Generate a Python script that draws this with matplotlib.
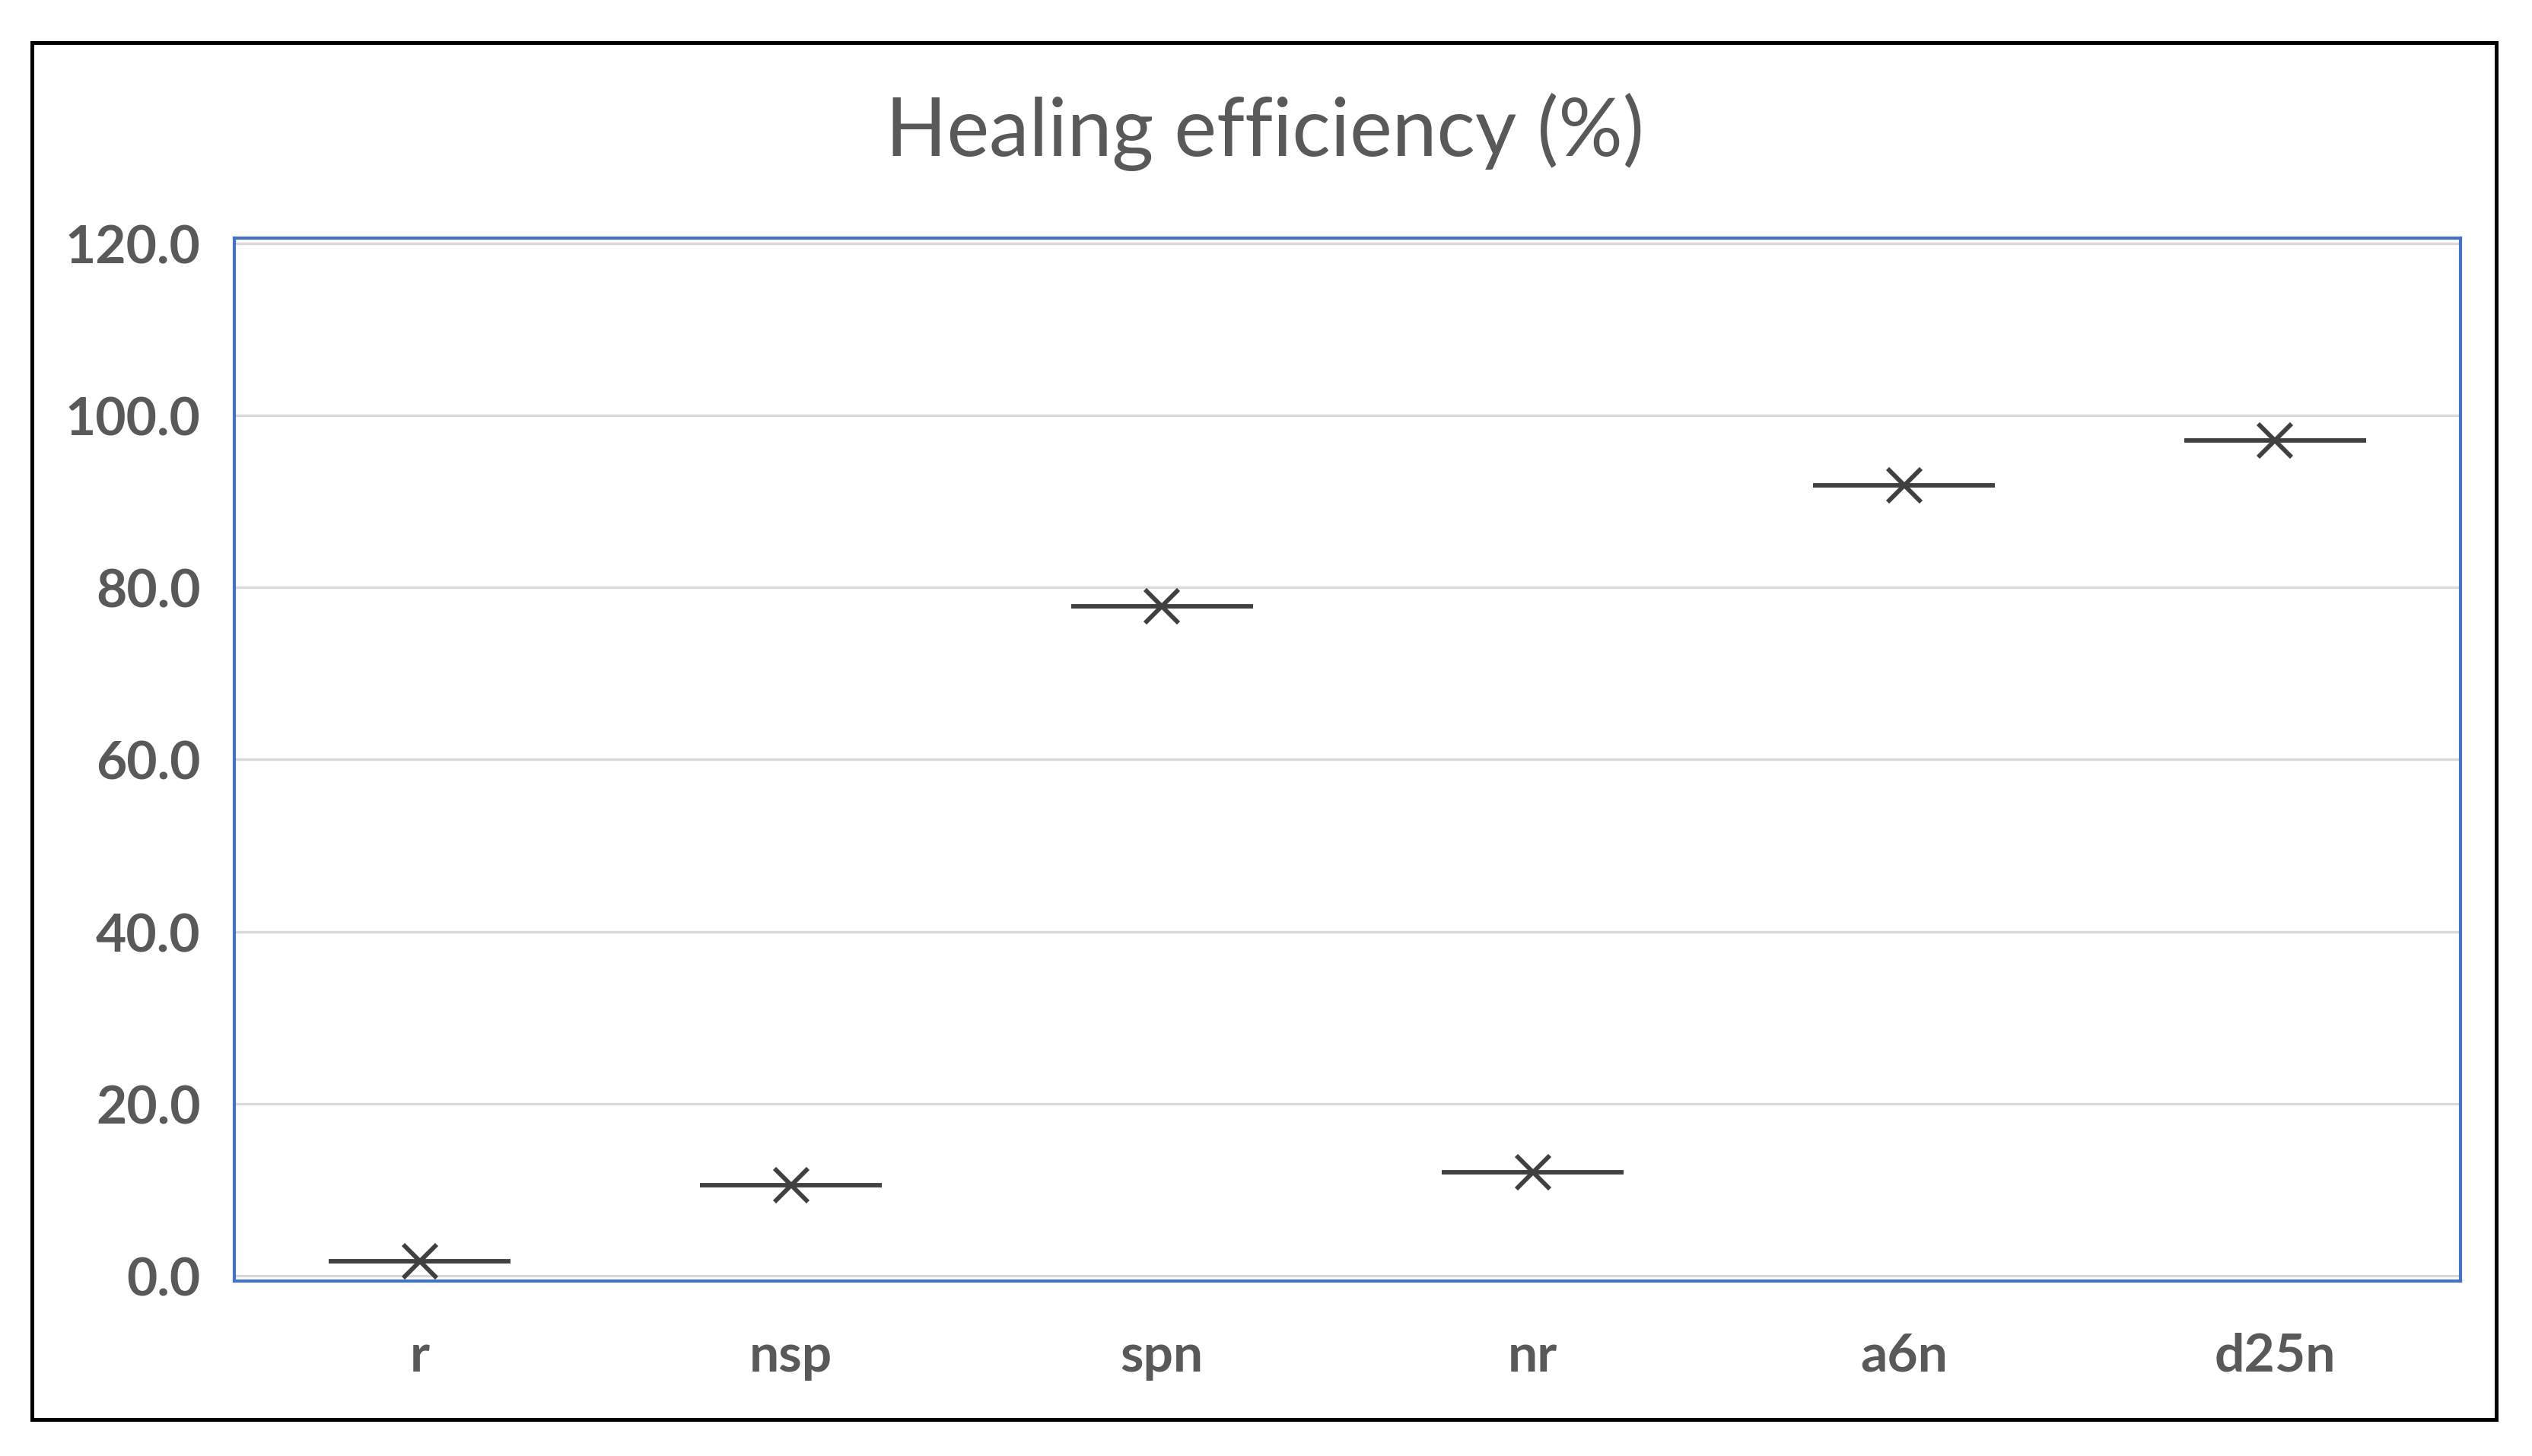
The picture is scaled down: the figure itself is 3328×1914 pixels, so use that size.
import matplotlib
matplotlib.use("Agg")
import matplotlib.pyplot as plt
from matplotlib.patches import Rectangle

categories = ["r", "nsp", "spn", "nr", "a6n", "d25n"]
values = [1.7, 10.5, 77.8, 12.0, 91.9, 97.1]
yticks = [0, 20, 40, 60, 80, 100, 120]
title = "Healing efficiency (%)"

W, H = 3328, 1915
fig = plt.figure(figsize=(W / 100, H / 100), dpi=100)
fig.patch.set_facecolor("white")

ax = fig.add_axes([308 / W, 1 - 1685 / H, (3234 - 308) / W, (1685 - 314) / H])
x = list(range(len(categories)))
ax.set_xlim(-0.5, len(categories) - 0.5)
ax.set_ylim(-0.6, 120.6)

ax.set_yticks(yticks)
ax.set_yticklabels([f"{v:.1f}" for v in yticks])
ax.set_xticks(x)
ax.set_xticklabels(categories)
ax.grid(axis="y", color="#D9D9D9", linewidth=2.4)
ax.set_axisbelow(True)
for sp in ax.spines.values():
    sp.set_color("#4472C4")
    sp.set_linewidth(3.0)
ax.tick_params(axis="both", length=0, labelcolor="#595959", labelsize=50)
ax.tick_params(axis="y", pad=32)
ax.tick_params(axis="x", pad=48)
for lab in ax.get_xticklabels() + ax.get_yticklabels():
    lab.set_fontfamily("Lato")
    lab.set_fontweight("bold")

half = 0.245
ax.hlines(values, [i - half for i in x], [i + half for i in x], color="#404040", linewidth=4.2, zorder=3)
ax.plot(x, values, linestyle="none", marker="x", markersize=32, markeredgewidth=4.2,
        color="#404040", zorder=4)

fig.text(0.4994, 1 - 174 / H, title, ha="center", va="center", fontsize=76,
         color="#595959", fontfamily="Lato", fontweight="normal")

fig.patches.append(Rectangle((42 / W, 1 - 1867 / H), (3281 - 42) / W, (1867 - 57) / H,
                             transform=fig.transFigure, fill=False, edgecolor="black",
                             linewidth=3.6))

fig.savefig("out.png", dpi=100, facecolor="white")
